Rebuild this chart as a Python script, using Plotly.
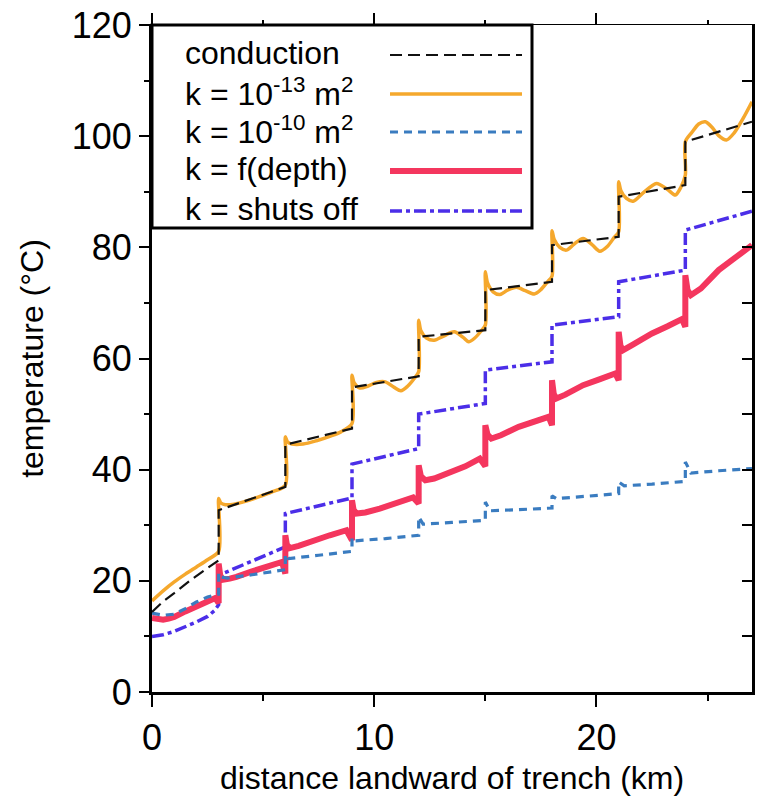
import plotly.graph_objects as go

# ---------------- data (km, °C) ----------------
# conduction only
cond_x = [0, 0.5, 1.0, 1.7, 2.5, 3.0,
          3.0, 6.0, 6.0, 9.0, 9.0, 12.0, 12.0, 15.0, 15.0, 18.0,
          18.0, 21.0, 21.0, 24.0, 24.0, 27.0]
cond_y = [14.4, 16.3, 17.8, 20.0, 22.3, 23.7,
          32.7, 36.9, 44.5, 47.4, 54.8, 56.8, 63.9, 65.1, 72.3, 73.8,
          80.4, 81.9, 89.1, 91.2, 99.0, 102.6]

# k = 1e-13 m^2
k13_x = [0, 0.5, 1.0, 1.5, 2.0, 2.5, 3.0,
         3.0, 3.1, 3.3, 3.7, 4.2, 4.8, 5.4, 6.0,
         6.0, 6.1, 6.3, 6.8, 7.4, 8.0, 8.5, 9.0,
         9.0, 9.1, 9.35, 9.7, 10.1, 10.5, 10.9, 11.2, 11.5, 11.8, 12.0,
         12.0, 12.1, 12.35, 12.7, 13.1, 13.6, 14.0, 14.25, 14.5, 14.8, 15.0,
         15.0, 15.1, 15.35, 15.65, 16.0, 16.4, 16.8, 17.2, 17.5, 17.8, 18.0,
         18.0, 18.1, 18.35, 18.65, 19.0, 19.4, 19.8, 20.15, 20.5, 20.8, 21.0,
         21.0, 21.1, 21.35, 21.65, 22.1, 22.7, 23.2, 23.55, 23.8, 24.0,
         24.0, 24.3, 24.6, 24.9, 25.2, 25.5, 25.85, 26.2, 26.6, 27.0]
k13_y = [16.4, 18.2, 19.8, 21.2, 22.5, 23.8, 25.3,
         34.8, 34.0, 33.7, 33.8, 34.3, 35.1, 36.0, 37.2,
         45.9, 45.0, 44.6, 44.6, 45.2, 46.0, 46.8, 48.3,
         57.0, 55.6, 54.7, 55.0, 55.7, 55.8, 54.8, 54.2, 55.0, 56.4, 57.6,
         66.9, 65.0, 63.7, 63.3, 64.0, 64.8, 63.8, 63.0, 63.6, 64.9, 66.0,
         75.6, 73.6, 72.0, 71.5, 72.3, 72.8, 72.2, 71.6, 72.4, 73.8, 74.8,
         83.0, 81.4, 80.0, 79.5, 80.6, 81.6, 80.5, 79.3, 80.2, 81.8, 82.8,
         91.8, 90.2, 88.8, 88.3, 89.8, 91.5, 90.4, 89.4, 90.8, 93.0,
         99.0, 100.7, 102.2, 102.6, 101.6, 100.1, 99.3, 100.6, 103.2, 106.2]

# k = 1e-10 m^2
k10_x = [0, 0.5, 1.0, 1.5, 2.0, 2.5, 3.0,
         3.0, 3.1, 3.4, 4.5, 6.0,
         6.0, 6.15, 7.5, 9.0,
         9.0, 9.15, 10.5, 12.0,
         12.0, 12.2, 13.5, 15.0,
         15.0, 15.2, 16.5, 18.0,
         18.0, 18.2, 19.5, 21.0,
         21.0, 21.25, 22.5, 24.0,
         24.0, 24.25, 25.5, 27.0]
k10_y = [14.2, 13.8, 14.0, 15.0, 16.2, 17.1, 17.6,
         21.4, 20.7, 20.5, 21.1, 22.0,
         24.8, 24.0, 24.6, 25.3,
         27.8, 27.2, 27.6, 28.2,
         31.5, 30.2, 30.5, 30.9,
         34.2, 32.6, 32.8, 33.1,
         35.3, 34.8, 35.2, 35.7,
         37.8, 37.1, 37.4, 37.9,
         41.4, 39.4, 39.8, 40.2]

# k = f(depth)
kd_x = [0, 0.25, 0.5, 0.75, 1.0, 1.5, 2.0, 2.5, 2.85, 3.0,
        3.0, 3.07, 3.2, 3.5, 3.8, 4.5, 5.2, 5.85, 6.0,
        6.0, 6.07, 6.2, 6.6, 7.25, 8.0, 8.75, 9.0,
        9.0, 9.07, 9.2, 9.6, 10.25, 11.0, 11.75, 12.0,
        12.0, 12.1, 12.3, 12.7, 13.4, 14.1, 14.75, 15.0,
        15.0, 15.1, 15.27, 15.7, 16.5, 17.2, 17.85, 18.0,
        18.0, 18.08, 18.2, 18.6, 19.4, 20.1, 20.85, 21.0,
        21.0, 21.08, 21.2, 21.6, 22.5, 23.2, 23.85, 24.0,
        24.0, 24.1, 24.25, 24.7, 25.5, 26.2, 27.0]
kd_y = [13.3, 13.1, 13.0, 13.2, 13.5, 14.5, 15.4, 16.3, 16.9, 16.0,
        23.1, 21.0, 20.2, 20.4, 20.7, 21.7, 22.6, 23.4, 21.3,
        28.2, 26.5, 25.9, 26.3, 27.3, 28.2, 29.1, 27.3,
        34.5, 32.8, 32.1, 32.3, 33.0, 33.9, 35.0, 33.9,
        40.8, 38.8, 38.1, 38.4, 39.4, 40.6, 42.0, 40.6,
        48.0, 46.3, 45.6, 46.2, 47.7, 48.5, 49.5, 48.0,
        56.1, 53.6, 52.8, 53.5, 55.2, 56.2, 57.3, 56.1,
        64.8, 62.3, 61.5, 62.4, 64.5, 65.8, 67.1, 65.7,
        75.0, 72.3, 71.4, 72.6, 75.9, 78.0, 80.4]

# k shuts off
kso_x = [0, 0.5, 1.0, 1.5, 2.0, 2.5, 2.8, 3.0,
         3.0, 6.0, 6.0, 9.0, 9.0, 12.0, 12.0, 15.0,
         15.0, 18.0, 18.0, 21.0, 21.0, 24.0, 24.0, 27.0]
kso_y = [10.0, 10.3, 10.9, 11.7, 12.6, 13.6, 14.6, 15.7,
         21.0, 26.1, 32.1, 34.9, 41.0, 43.8, 50.0, 51.9,
         57.9, 59.4, 66.0, 67.5, 73.8, 75.9, 83.1, 86.5]

# ---------------- styling ----------------
FONT = "Liberation Sans, Arial, Helvetica, sans-serif"
C_COND = "#111111"
C_K13 = "#F5A82D"
C_K10 = "#3A7CC0"
C_KD = "#F4365E"
C_KSO = "#4B2EE8"

D_COND = "12px,6px"
D_K10 = "8px,6px"
D_KSO = "12px,4px,4px,4px"

# (x, y, colour, width, dash, shape)
series = [
    (kso_x, kso_y, C_KSO, 3.5, D_KSO, "linear"),
    (kd_x, kd_y, C_KD, 6.0, "solid", "linear"),
    (k10_x, k10_y, C_K10, 3.2, D_K10, "linear"),
    (k13_x, k13_y, C_K13, 3.5, "solid", "spline"),
    (cond_x, cond_y, C_COND, 2.2, D_COND, "linear"),
]

fig = go.Figure()
for x, y, c, w, d, shp in series:
    ln = dict(color=c, width=w, dash=d, shape=shp)
    if shp == "spline":
        ln["smoothing"] = 0.8
    fig.add_trace(go.Scatter(x=x, y=y, mode="lines", showlegend=False,
                             line=ln, hoverinfo="skip"))

# carrier for the mirrored top/right axes
fig.add_trace(go.Scatter(x=[0, 27], y=[0, 120], xaxis="x2", yaxis="y2",
                         mode="none", showlegend=False, hoverinfo="skip"))

W, H = 765, 796
ML, MR, MT, MB = 152, 13, 25, 104
PW, PH = W - ML - MR, H - MT - MB


def px(xp):
    return (xp - ML) / PW


def py(yp):
    return 1 - (yp - MT) / PH


fig.update_layout(
    width=W, height=H,
    margin=dict(l=ML, r=MR, t=MT, b=MB, pad=0, autoexpand=False),
    paper_bgcolor="white", plot_bgcolor="white",
    font=dict(family=FONT, color="black"),
    showlegend=False,
    xaxis=dict(range=[0, 27], showgrid=False, zeroline=False, automargin=False,
               showline=True, linewidth=3, linecolor="black",
               ticks="outside", ticklen=12, tickwidth=2, tickcolor="black",
               tick0=0, dtick=10,
               minor=dict(ticks="outside", dtick=5, ticklen=6, tickwidth=2,
                          tickcolor="black", showgrid=False),
               tickfont=dict(size=36),
               title=dict(text="distance landward of trench (km)",
                          font=dict(size=32), standoff=10)),
    yaxis=dict(range=[0, 120], showgrid=False, zeroline=False, automargin=False,
               showline=True, linewidth=3, linecolor="black",
               ticks="outside", ticklen=10, tickwidth=2, tickcolor="black",
               tick0=0, dtick=20,
               minor=dict(ticks="outside", dtick=10, ticklen=5, tickwidth=2,
                          tickcolor="black", showgrid=False),
               tickfont=dict(size=36),
               title=dict(text="temperature (°C)", font=dict(size=32),
                          standoff=19)),
    xaxis2=dict(range=[0, 27], overlaying="x", side="top", showgrid=False,
                zeroline=False, showline=True, linewidth=1.2, automargin=False,
                linecolor="black", ticks="outside", ticklen=11, tickwidth=1.5,
                tickcolor="black", tick0=0, dtick=10, showticklabels=False,
                minor=dict(ticks="outside", dtick=5, ticklen=4, tickwidth=1.5,
                           tickcolor="black", showgrid=False)),
    yaxis2=dict(range=[0, 120], overlaying="y", side="right", showgrid=False,
                zeroline=False, showline=True, linewidth=3, automargin=False,
                linecolor="black", ticks="inside", ticklen=10, tickwidth=2,
                tickcolor="black", tick0=0, dtick=10, showticklabels=False),
)

# key box in the upper-left corner
shapes = [dict(type="rect", xref="paper", yref="paper",
               x0=px(152), x1=px(532), y0=py(228), y1=py(25),
               line=dict(color="black", width=3), fillcolor="white",
               layer="above")]
labels = ["conduction", "k = 10<sup>-13</sup> m<sup>2</sup>",
          "k = 10<sup>-10</sup> m<sup>2</sup>", "k = f(depth)",
          "k = shuts off"]
rows = [55, 94, 132, 171, 211]
keys = [(C_COND, 2.2, D_COND), (C_K13, 3.5, "solid"), (C_K10, 3.2, D_K10),
        (C_KD, 6.0, "solid"), (C_KSO, 3.5, D_KSO)]
annotations = []
for lab, r, (c, w, d) in zip(labels, rows, keys):
    shapes.append(dict(type="line", xref="paper", yref="paper",
                       x0=px(390), x1=px(522), y0=py(r), y1=py(r),
                       line=dict(color=c, width=w, dash=d), layer="above"))
    annotations.append(dict(text=lab, xref="paper", yref="paper",
                            x=px(183), y=py(r - 2), xanchor="left",
                            yanchor="middle", showarrow=False,
                            font=dict(size=32, family=FONT, color="black")))
fig.update_layout(shapes=shapes, annotations=annotations)

fig.write_html("out.html")
